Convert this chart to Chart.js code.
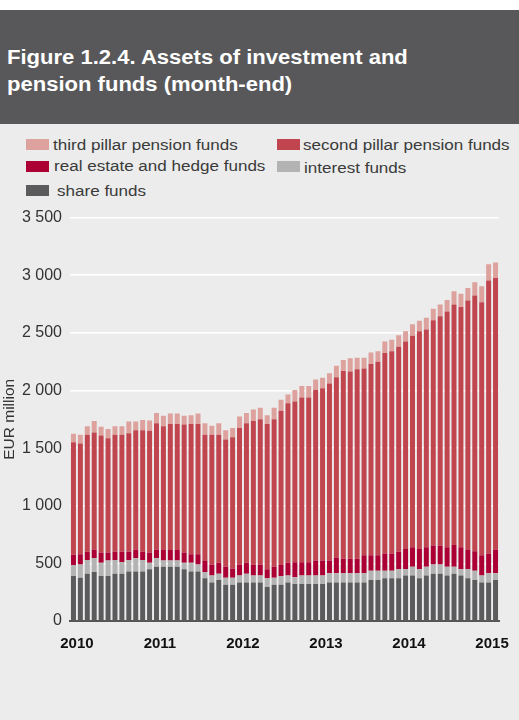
<!DOCTYPE html>
<html>
<head>
<meta charset="utf-8">
<script src="https://cdn.jsdelivr.net/npm/chart.js@4"></script>
<style>
  html, body { margin: 0; padding: 0; }
  body {
    width: 519px; height: 720px; position: relative; overflow: hidden;
    background: #ebeceb; font-family: "Liberation Sans", Arial, sans-serif;
  }
  #top { position: absolute; left: 0; top: 0; width: 519px; height: 10px; background: #fff; }
  #header { position: absolute; left: 0; top: 10px; width: 519px; height: 114px; background: #58585a; }
  #title {
    position: absolute; left: 7px; top: 34px; color: #fff; font-weight: bold;
    font-size: 19.5px; line-height: 27px; white-space: nowrap;
    transform: scaleX(1.13); transform-origin: left top;
  }
  .sw { position: absolute; width: 23px; height: 11px; }
  .lt {
    position: absolute; font-size: 15.5px; line-height: 16px; color: #3a3a3a; white-space: nowrap;
    transform: scaleX(1.1); transform-origin: left top;
  }
  #divchart { position: absolute; left: 0; top: 200px; width: 519px; height: 460px; }
</style>
</head>
<body>
<div id="top"></div>
<div id="header"><div id="title">Figure 1.2.4. Assets of investment and<br>pension funds (month-end)</div></div>

<div id="legend">
  <div class="sw" data-ds="4" style="left:26px;top:139px"></div>
  <div class="lt" data-ds="4" style="left:53px;top:137px"></div>
  <div class="sw" data-ds="3" style="left:277px;top:139px"></div>
  <div class="lt" data-ds="3" style="left:303px;top:137px"></div>
  <div class="sw" data-ds="2" style="left:26px;top:161px"></div>
  <div class="lt" data-ds="2" style="left:54px;top:158px"></div>
  <div class="sw" data-ds="1" style="left:277px;top:161px"></div>
  <div class="lt" data-ds="1" style="left:304px;top:160px"></div>
  <div class="sw" data-ds="0" style="left:26px;top:185px"></div>
  <div class="lt" data-ds="0" style="left:57px;top:183px"></div>
</div>

<div id="divchart"><canvas id="chart"></canvas></div>

<script>
// month-end, Dec 2009 .. Jan 2015
const months = ['2009-12'];
for (let y = 2010; y <= 2014; y++) {
    for (let m = 1; m <= 12; m++) months.push(y + '-' + String(m).padStart(2, '0'));
}
months.push('2015-01');

const yTicks = [0, 500, 1000, 1500, 2000, 2500, 3000, 3500];

// EUR million, stacked bottom to top
const shareFunds = [390, 375, 410, 425, 390, 390, 410, 410, 430, 430,
    430, 450, 470, 470, 470, 470, 450, 430, 430, 370,
    335, 355, 315, 315, 335, 335, 335, 335, 295, 315,
    315, 335, 320, 320, 320, 320, 320, 335, 335, 335,
    335, 335, 335, 355, 355, 370, 370, 370, 395, 395,
    370, 395, 410, 410, 395, 410, 395, 370, 355, 335,
    335, 355];
const interestFunds = [95, 115, 120, 120, 115, 135, 120, 100, 100, 115,
    100, 55, 75, 55, 55, 55, 55, 75, 60, 55,
    60, 55, 60, 60, 60, 75, 60, 60, 75, 60,
    75, 60, 60, 75, 75, 75, 75, 80, 80, 80,
    80, 80, 80, 80, 80, 65, 65, 80, 55, 75,
    80, 75, 80, 80, 75, 60, 55, 80, 80, 60,
    80, 60];
const realEstateHedge = [90, 90, 70, 75, 90, 70, 70, 90, 70, 75,
    70, 90, 75, 90, 90, 90, 90, 75, 90, 95,
    95, 95, 95, 80, 95, 95, 95, 95, 80, 95,
    95, 110, 130, 115, 115, 130, 130, 110, 135, 125,
    125, 125, 155, 135, 135, 150, 150, 150, 175, 170,
    175, 170, 165, 165, 170, 190, 190, 165, 170, 175,
    170, 205];
const secondPillar = [975, 960, 1015, 1015, 1015, 990, 1015, 1015, 1030, 1035,
    1055, 1055, 1095, 1075, 1095, 1095, 1110, 1130, 1130, 1095,
    1125, 1110, 1105, 1140, 1185, 1210, 1245, 1260, 1260, 1280,
    1340, 1385, 1395, 1430, 1430, 1480, 1495, 1535, 1565, 1630,
    1625, 1645, 1620, 1660, 1680, 1740, 1755, 1780, 1800, 1835,
    1890, 1890, 1955, 1990, 2045, 2085, 2085, 2165, 2220, 2195,
    2370, 2355];
const thirdPillar = [75, 75, 75, 100, 75, 80, 75, 75, 100, 75,
    90, 90, 90, 90, 90, 90, 75, 75, 90, 100,
    80, 100, 80, 80, 100, 90, 100, 100, 75, 100,
    95, 75, 100, 100, 100, 90, 90, 90, 100, 95,
    115, 100, 95, 100, 90, 100, 100, 100, 90, 100,
    90, 100, 100, 100, 100, 115, 115, 110, 115, 140,
    140, 135];

const seriesNames = ['share funds', 'interest funds', 'real estate and hedge funds',
    'second pillar pension funds', 'third pillar pension funds'];
const seriesColors = ['#5b5b5d', '#b3b3b3', '#ac0035', '#c0454f', '#dea29e'];
const seriesData = [shareFunds, interestFunds, realEstateHedge, secondPillar, thirdPillar];

function fmt(v) {
    if (v < 1000) return String(v);
    return Math.floor(v / 1000) + ' ' + String(v % 1000).padStart(3, '0');
}

document.querySelectorAll('#legend [data-ds]').forEach(el => {
    const i = Number(el.dataset.ds);
    if (el.classList.contains('sw')) el.style.background = seriesColors[i];
    else el.textContent = seriesNames[i];
});

const ctx = document.getElementById('chart');

new Chart(ctx, {
    type: 'bar',
    data: {
        labels: months,
        datasets: seriesData.map((d, i) => ({
            label: seriesNames[i],
            data: d,
            backgroundColor: seriesColors[i],
            borderWidth: 0,
            barPercentage: 0.72,
            categoryPercentage: 1
        }))
    },
    options: {
        responsive: true,
        maintainAspectRatio: false,
        animation: false,
        layout: { padding: { top: 16, right: 20, left: 0, bottom: 0 } },
        plugins: { legend: { display: false }, tooltip: { enabled: false } },
        scales: {
            x: {
                stacked: true,
                z: 1,
                grid: { display: false },
                border: { display: true, color: '#555', width: 2 },
                afterFit: s => { s.height = 39; },
                ticks: {
                    autoSkip: false,
                    maxRotation: 0,
                    padding: 6,
                    labelOffset: -3.5,
                    color: '#111',
                    font: { family: 'Liberation Sans', size: 15, weight: 'bold' },
                    callback: (v, i) => months[i].endsWith('-01') ? months[i].slice(0, 4) : ''
                }
            },
            y: {
                stacked: true,
                min: yTicks[0],
                max: yTicks[yTicks.length - 1],
                afterFit: s => { s.width = 70; },
                afterBuildTicks: s => { s.ticks = yTicks.map(v => ({ value: v })); },
                border: { display: false },
                grid: {
                    drawTicks: false,
                    lineWidth: 1.5,
                    color: c => c.tick && c.tick.value === 0 ? 'rgba(0,0,0,0)' : '#ffffff'
                },
                ticks: {
                    padding: 8,
                    color: '#333',
                    font: { family: 'Liberation Sans', size: 16 },
                    callback: v => fmt(v)
                },
                title: {
                    display: true,
                    text: 'EUR million',
                    color: '#333',
                    padding: { top: 0, bottom: 0 },
                    font: { family: 'Liberation Sans', size: 15.5 }
                }
            }
        }
    }
});
</script>
</body>
</html>
